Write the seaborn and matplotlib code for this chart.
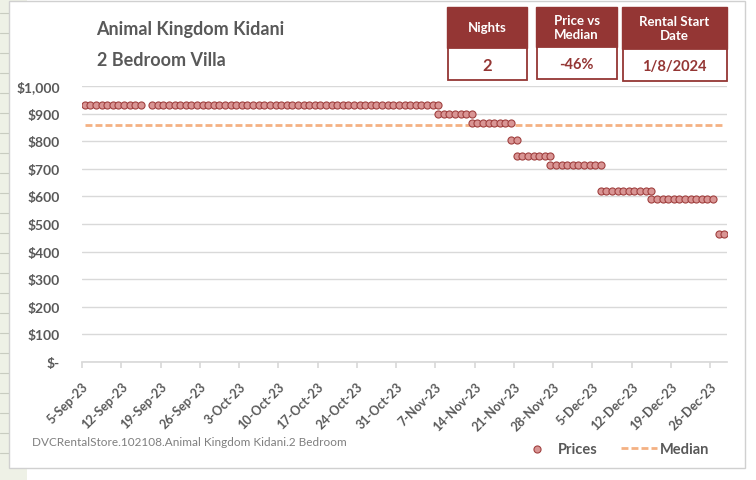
import pandas as pd
import matplotlib.pyplot as plt
import matplotlib.dates as mdates
from matplotlib.patches import Rectangle
from matplotlib.lines import Line2D
import seaborn as sns

# price runs: first night, last night, nightly price
run_start = ["2023-09-05", "2023-09-17", "2023-11-07", "2023-11-13", "2023-11-20",
             "2023-11-21", "2023-11-27", "2023-12-06", "2023-12-15", "2023-12-27"]
run_end = ["2023-09-15", "2023-11-07", "2023-11-13", "2023-11-20", "2023-11-21",
           "2023-11-27", "2023-12-06", "2023-12-15", "2023-12-26", "2023-12-28"]
run_price = [930, 930, 900, 865, 805, 745, 715, 620, 590, 465]
median_price = 860

title_lines = ["Animal Kingdom Kidani", "2 Bedroom Villa"]
box_heads = ["Nights", "Price vs\nMedian", "Rental Start\nDate"]
box_values = ["2", "-46%", "1/8/2024"]
footer = "DVCRentalStore.102108.Animal Kingdom Kidani.2 Bedroom"

rows = []
for s, e, p in zip(run_start, run_end, run_price):
    for d in pd.date_range(s, e, freq="D"):
        rows.append({"date": d + pd.Timedelta(hours=12), "price": p})
df = pd.DataFrame(rows)
med = pd.DataFrame({"date": sorted(df["date"].unique())})
med["price"] = median_price

W, H = 756, 481
def fx(x):
    return x / W
def fy(y):
    return 1 - y / H

GREY = "#595959"
RED = "#943634"

sns.set_theme(style="white")
plt.rcParams["font.family"] = ["Lato", "DejaVu Sans"]

fig = plt.figure(figsize=(7.56, 4.81), dpi=100)

# spreadsheet bits around the chart object
fig.add_artist(Rectangle((0, 0), fx(27), 1, transform=fig.transFigure,
                         facecolor="#eef1e6", edgecolor="none", zorder=0))
for yy in range(14, 470, 20):
    fig.add_artist(Line2D([0, fx(9)], [fy(yy), fy(yy)], transform=fig.transFigure,
                          color="#c8ccc0", lw=0.8, zorder=0))
fig.add_artist(Rectangle((fx(9), fy(469)), fx(745) - fx(9), fy(2) - fy(469),
                         transform=fig.transFigure, facecolor="white",
                         edgecolor="#d0d0d0", lw=1, zorder=0.5))

ax = fig.add_axes([fx(82), fy(363), fx(727) - fx(82), fy(87) - fy(363)])
ax.set_zorder(2)
ax.set_facecolor("none")

sns.lineplot(data=med, x="date", y="price", ax=ax, color="#f4b183", lw=2,
             linestyle=(0, (2.5, 1.1)), label="Median", zorder=2)
sns.scatterplot(data=df, x="date", y="price", ax=ax, s=26, color="#d99594",
                edgecolor="#a0403f", linewidth=0.8, label="Prices", zorder=3)

ax.set_ylim(0, 1000)
ax.set_xlim(pd.Timestamp("2023-09-05"), pd.Timestamp("2023-12-29"))
ax.set_yticks(range(0, 1001, 100))
ax.set_yticklabels(["$-"] + [f"${v:,}" for v in range(100, 1001, 100)])
ax.set_xticks(pd.date_range("2023-09-05", "2023-12-26", freq="7D"))
ax.xaxis.set_major_formatter(mdates.DateFormatter("%-d-%b-%y"))
ax.grid(axis="y", color="#d9d9d9", lw=1)
ax.set_axisbelow(True)
for side in ["left", "right", "top"]:
    ax.spines[side].set_visible(False)
ax.spines["bottom"].set_color("#d9d9d9")
ax.tick_params(axis="y", length=0, pad=16, labelsize=10, labelcolor=GREY)
ax.tick_params(axis="x", length=4, color="#d9d9d9", direction="out", pad=9,
               labelsize=9, labelcolor=GREY, bottom=True)
for t in ax.get_yticklabels():
    t.set_fontweight("bold")
for t in ax.get_xticklabels():
    t.set_rotation(45)
    t.set_ha("right")
    t.set_rotation_mode("anchor")
    t.set_fontweight("bold")
ax.set_xlabel("")
ax.set_ylabel("")

handles, labels = ax.get_legend_handles_labels()
order = [labels.index("Prices"), labels.index("Median")]
ax.legend([handles[i] for i in order], [labels[i] for i in order], ncol=2,
          frameon=False, loc="center", bbox_to_anchor=(fx(614), fy(450)),
          bbox_transform=fig.transFigure, handlelength=2.5, handletextpad=0.15,
          columnspacing=1.6, prop={"weight": "bold", "size": 10.5},
          labelcolor=GREY)

# titles
fig.text(fx(96), fy(30), title_lines[0], fontsize=13, fontweight="bold",
         color=GREY, va="center", ha="left")
fig.text(fx(97), fy(61), title_lines[1], fontsize=13, fontweight="bold",
         color=GREY, va="center", ha="left")

# info boxes
box_x = [(447, 527), (536, 617), (622, 727)]
head_bottom = [49, 48, 50]
for (x0, x1), hb, head, val in zip(box_x, head_bottom, box_heads, box_values):
    fig.add_artist(Rectangle((fx(x0), fy(hb)), fx(x1) - fx(x0), fy(8) - fy(hb),
                             transform=fig.transFigure, facecolor=RED,
                             edgecolor=RED, lw=1))
    fig.add_artist(Rectangle((fx(x0 + 1), fy(hb + 32)), fx(x1) - fx(x0 + 1), fy(hb) - fy(hb + 32),
                             transform=fig.transFigure, facecolor="white",
                             edgecolor=RED, lw=1.3))
    fig.text(fx((x0 + x1) / 2), fy((8 + hb) / 2), head, color="white",
             fontsize=9.5, fontweight="bold", ha="center", va="center",
             linespacing=1.25)
    fig.text(fx((x0 + x1) / 2), fy(hb + 17), val, color=RED,
             fontsize=12 if val == "2" else 10.5, fontweight="bold",
             ha="center", va="center")

fig.text(fx(32), fy(443), footer, fontsize=8.5, color="#7f7f7f",
         ha="left", va="center")

fig.savefig("out.png", dpi=100)
